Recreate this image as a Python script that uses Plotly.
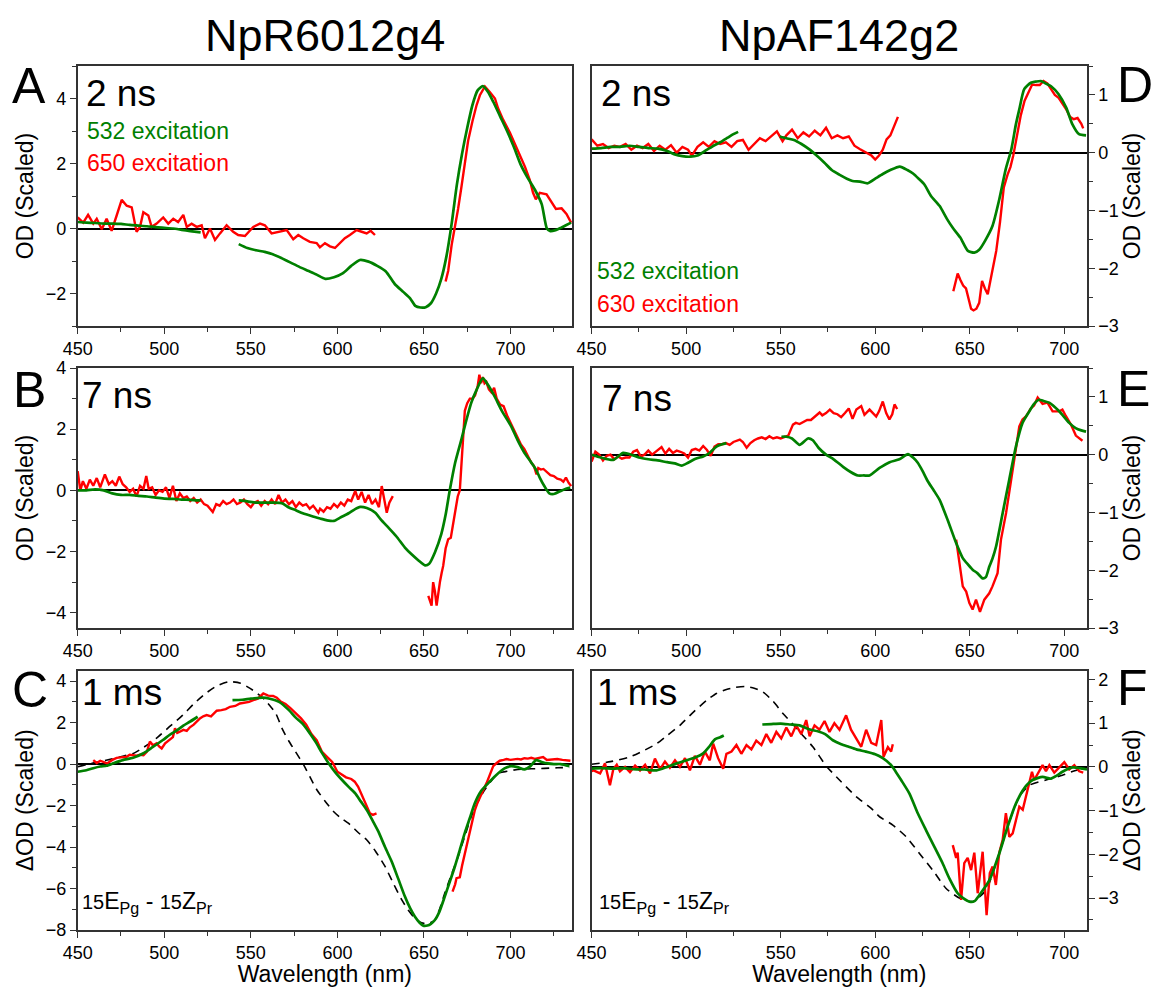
import plotly.graph_objects as go

W, H = 1156, 987
GREEN = '#008000'
RED = '#ff0000'
FONT = 'Arial, Liberation Sans, sans-serif'

# ---------------- Panel A (NpR6012g4, 2 ns) ----------------
A_g1_x = [450, 455, 460, 465, 470, 475, 480, 485, 490, 495, 500, 505, 510, 515, 521]
A_g1_y = [0.2, 0.18, 0.17, 0.15, 0.15, 0.14, 0.11, 0.09, 0.07, 0.04, 0.02, 0.0, -0.04, -0.08, -0.12]
A_g2_x = [543, 548, 553, 558, 563, 568, 573, 578, 583, 588, 593, 598, 603, 608, 613, 618, 623, 628, 633, 638,
          642, 645, 648, 651, 654, 657, 660, 663, 666, 669, 672, 675, 678, 681, 684, 687, 690, 694, 698, 702,
          706, 710, 714, 718, 721, 723, 726, 729, 732, 735]
A_g2_y = [-0.48, -0.6, -0.67, -0.72, -0.8, -0.92, -1.05, -1.18, -1.3, -1.42, -1.55, -1.5, -1.38, -1.15, -0.97, -1.02, -1.15, -1.32, -1.7, -1.95,
          -2.15, -2.38, -2.43, -2.42, -2.3, -2.0, -1.55, -0.85, 0.15, 1.35, 2.3, 3.1, 3.8, 4.25, 4.38, 4.2, 3.9, 3.45, 3.0, 2.5,
          1.95, 1.55, 1.2, 0.75, 0.0, -0.08, -0.05, 0.02, 0.1, 0.18]
A_r1_x = [450, 453.2, 456, 459, 461, 463.9, 466.7, 469.6, 472.5, 475.4, 478.3, 481.2, 484, 486, 487.9, 490.8, 492.7, 495.6,
          499.4, 502.3, 505.2, 508, 511, 513, 515.8, 518.7, 521.6, 523.5, 526.4, 529.3, 532.2, 536, 539.8, 542.7, 546.6,
          551.4, 555.3, 558.1, 562, 566.8, 570.7, 574.5, 577.4, 580.3, 584.1, 588, 589.9, 592.8, 595.7, 598.6, 601.4,
          604.3, 607.2, 611.1, 614, 616.9, 619.2, 621.7]
A_r1_y = [0.34, 0.18, 0.42, 0.15, 0.3, -0.02, 0.3, -0.07, 0.4, 0.88, 0.7, 0.65, -0.1, 0.05, 0.5, 0.4, 0.05, 0.15,
          0.34, 0.15, 0.3, 0.2, 0.42, 0.05, 0.15, 0.05, 0.1, -0.3, 0.0, -0.35, -0.15, 0.1, -0.1, -0.2, -0.23,
          0.05, 0.15, 0.1, -0.15, -0.1, -0.05, -0.33, -0.2, -0.3, -0.41, -0.45, -0.58, -0.45, -0.55, -0.6, -0.45,
          -0.3, -0.2, -0.05, -0.1, -0.15, -0.07, -0.2]
A_r2_x = [662.5, 664, 666, 667.8, 669.7, 671.7, 673.6, 675.5, 678, 680.4, 682.3, 685.2, 688, 691, 692.8, 695.7, 699.6,
          702.5, 705.4, 708.3, 711.1, 713, 714.6, 716.9, 720.8, 723.7, 726.2, 729.5, 732.3, 735]
A_r2_y = [-1.63, -1.3, -0.5, 0.0, 0.6, 1.3, 2.0, 2.7, 3.3, 3.8, 4.1, 4.37, 4.2, 4.0, 3.7, 3.35, 2.95,
          2.6, 2.25, 1.9, 1.5, 1.1, 0.9, 1.1, 1.05, 0.8, 0.6, 0.62, 0.45, 0.18]

# ---------------- Panel D (NpAF142g2, 2 ns) ----------------
D_g1_x = [450, 455, 460, 465, 470, 475, 480, 485, 490, 494, 498, 502, 506, 510, 514, 518, 522, 525, 527.5]
D_g1_y = [0.07, 0.08, 0.1, 0.1, 0.12, 0.1, 0.08, 0.07, 0.03, -0.03, -0.06, -0.07, -0.05, 0.03, 0.11, 0.18, 0.26, 0.32, 0.36]
D_g2_x = [549.5, 553, 557, 561, 565, 569, 573, 577, 581, 585, 588, 592, 596, 600, 604, 608, 613, 617, 620, 623,
          626, 629.5, 634, 638, 641, 645, 649, 652.4, 655, 658, 662, 665.6, 669, 672, 674.4, 676.2, 678.8, 682.3,
          685, 687.6, 690, 693, 697, 701, 704.3, 707.8, 711.5]
D_g2_y = [0.28, 0.25, 0.22, 0.15, 0.06, -0.05, -0.17, -0.3, -0.38, -0.45, -0.49, -0.5, -0.53, -0.45, -0.37, -0.3, -0.24, -0.3, -0.36, -0.45,
          -0.55, -0.75, -0.92, -1.15, -1.3, -1.47, -1.7, -1.73, -1.68, -1.53, -1.27, -0.81, -0.29, 0.06, 0.49, 0.75, 1.1, 1.21,
          1.23, 1.24, 1.2, 1.15, 1.01, 0.78, 0.49, 0.32, 0.3]
D_r1_x = [450, 453, 456, 459, 462, 465, 468, 471, 474, 477, 480, 483, 486, 489, 492, 495, 498, 501, 503, 506,
          509, 512, 515, 518, 521, 524, 527, 530, 533, 536, 539, 542, 545, 548, 551, 553, 556, 559, 562, 565,
          568, 571, 574, 577, 580, 583, 586, 589, 592, 595, 598, 600, 602, 604, 606, 608, 610, 612]
D_r1_y = [0.23, 0.12, 0.15, 0.08, 0.12, 0.1, 0.15, 0.05, 0.12, 0.08, 0.15, 0.03, 0.12, 0.05, 0.13, 0.0, 0.1, 0.05, -0.05, 0.1,
          0.18, 0.1, 0.2, 0.15, 0.18, 0.1, 0.2, 0.22, 0.05, 0.15, 0.25, 0.2, 0.28, 0.37, 0.2, 0.3, 0.4, 0.25, 0.35, 0.28,
          0.38, 0.3, 0.43, 0.25, 0.3, 0.25, 0.28, 0.12, 0.06, 0.0, -0.05, -0.12, -0.05, 0.05, 0.23, 0.3, 0.45, 0.62]
D_r2_x = [641.3, 643.6, 645, 646.5, 648, 649.5, 650.7, 652, 653.5, 655, 656.5, 658, 659.5, 661, 662.5, 664, 666, 668,
          670, 671.5, 673, 675, 677, 679, 681, 683, 685, 687, 689, 691, 693, 695, 697, 699, 701, 703, 705, 707, 709, 710]
D_r2_y = [-2.4, -2.09, -2.2, -2.3, -2.35, -2.55, -2.7, -2.73, -2.7, -2.6, -2.22, -2.35, -2.45, -2.2, -1.95, -1.7, -1.2, -0.6,
          -0.38, -0.25, -0.05, 0.3, 0.65, 0.9, 1.05, 1.18, 1.17, 1.17, 1.24, 1.2, 1.1, 1.0, 0.95, 0.85, 0.75, 0.62, 0.58, 0.6, 0.5, 0.42]

# ---------------- Panel B (NpR6012g4, 7 ns) ----------------
B_g1_x = [450, 455, 460, 465, 470, 475, 480, 485, 490, 495, 500, 505, 510, 515, 521]
B_g1_y = [0.0, 0.0, 0.03, 0.0, -0.1, -0.15, -0.15, -0.18, -0.2, -0.24, -0.27, -0.28, -0.3, -0.31, -0.33]
B_g2_x = [543, 548, 553, 558, 563, 568, 572, 576, 580, 585, 590, 594, 598, 602, 606.5, 610, 613.2, 617, 621.9, 625,
          629.5, 634, 639, 643, 647, 650.6, 653, 656.3, 660, 662.5, 664.9, 668, 671.6, 674.5, 677.3, 680.5, 684, 687.5,
          690.8, 695, 700.3, 704, 708, 711.5, 714.7, 717, 719.5, 722.4, 725, 729, 732, 734.5]
B_g2_y = [-0.33, -0.36, -0.4, -0.4, -0.4, -0.42, -0.56, -0.65, -0.75, -0.84, -0.92, -0.98, -1.0, -0.88, -0.75, -0.62, -0.54, -0.58, -0.73, -0.95,
          -1.22, -1.5, -1.87, -2.1, -2.3, -2.45, -2.4, -2.03, -1.43, -0.8, 0.0, 0.9, 1.66, 2.3, 2.86, 3.3, 3.67, 3.4,
          3.07, 2.6, 2.1, 1.65, 1.23, 0.95, 0.68, 0.4, 0.14, -0.1, -0.12, -0.02, 0.05, 0.09]
B_r1_x = [450, 451.5, 453, 455, 457, 459, 461, 463, 465.7, 468, 470, 472, 474, 476, 478, 480, 482, 484, 486, 488,
          489.6, 491, 493, 495, 497, 499, 501, 503, 505, 507, 509, 511, 513, 515, 517, 519, 521, 523, 525, 528,
          530, 532, 534, 536, 538, 540, 542, 544, 546, 548, 550, 552, 554, 556, 558, 560, 562, 564, 566, 568,
          570, 572, 574, 576, 578, 580, 582, 584, 586, 589, 590, 592, 594, 596, 598, 600, 602, 604, 606, 608,
          610.3, 612, 614, 616, 618, 620, 622, 624, 625.6, 627, 628.5, 630, 632]
B_r1_y = [0.63, 0.0, 0.3, 0.05, 0.35, 0.15, 0.4, 0.1, 0.52, 0.2, 0.3, 0.15, 0.45, 0.2, 0.1, -0.05, 0.05, -0.2, 0.15, 0.05,
          0.47, 0.05, 0.1, -0.15, 0.0, -0.05, 0.1, -0.25, 0.15, -0.35, -0.1, -0.25, -0.2, -0.35, -0.25, -0.4, -0.3, -0.45, -0.5, -0.71,
          -0.45, -0.5, -0.35, -0.45, -0.4, -0.3, -0.45, -0.4, -0.3, -0.45, -0.55, -0.4, -0.35, -0.5, -0.35, -0.45, -0.3, -0.45, -0.15, -0.4,
          -0.3, -0.45, -0.35, -0.55, -0.4, -0.5, -0.45, -0.6, -0.5, -0.73, -0.6, -0.7, -0.55, -0.6, -0.45, -0.55, -0.4, -0.5, -0.3, -0.35,
          -0.02, -0.3, -0.05, -0.4, -0.15, -0.45, -0.3, -0.55, 0.14, -0.3, -0.73, -0.4, -0.19]
B_r2_x = [652.5, 653.4, 654.4, 655.3, 656.3, 657.3, 658.3, 659.2, 660.2, 661.1, 662.5, 664, 665.5, 667, 668.5, 669.5,
          670.7, 672, 673.6, 675, 676.5, 678, 679.5, 681, 682, 683, 684, 685, 686, 687.5, 689, 690.5, 692, 694, 696,
          698, 700, 702, 704, 706, 708, 710, 712, 713.5, 715, 716, 717.5, 719, 721, 723, 725, 727, 729, 730.5, 732,
          733.5, 735]
B_r2_y = [-3.45, -3.6, -3.77, -3.0, -3.3, -3.77, -3.3, -3.0, -2.7, -2.47, -1.9, -1.6, -1.55, -1.0, -0.5, -0.2,
          0.0, 1.2, 2.6, 2.85, 3.0, 3.0, 3.1, 3.4, 3.78, 3.5, 3.7, 3.5, 3.55, 3.3, 3.2, 3.35, 3.0, 2.8, 2.75,
          2.45, 2.2, 1.95, 1.7, 1.5, 1.35, 1.15, 0.9, 0.8, 0.52, 0.73, 0.68, 0.7, 0.6, 0.5, 0.47, 0.38, 0.35, 0.28, 0.42,
          0.25, 0.14]

# ---------------- Panel E (NpAF142g2, 7 ns) ----------------
E_g1_x = [450, 455, 461.5, 466.7, 471, 475, 480, 485, 490, 494, 497.6, 501, 505, 509, 512, 516, 519, 521.3]
E_g1_y = [0.0, -0.05, -0.09, 0.03, 0.0, -0.05, -0.08, -0.1, -0.13, -0.15, -0.19, -0.14, -0.07, -0.03, 0.02, 0.14, 0.18, 0.2]
E_g2_x = [550.4, 553, 556, 560, 564.4, 567, 570, 574, 578, 583, 587, 590.8, 594, 597, 602.3, 607.6, 612.8, 617.3, 620,
          622.5, 625, 627.8, 631, 634, 638.3, 642.8, 646.3, 649, 651.5, 654, 656.8, 658.5, 660.3, 662, 663.9, 667.4,
          670.9, 674.4, 677.9, 681.5, 684, 686.7, 689, 692, 697.3, 702.6, 706, 709, 711.5]
E_g2_y = [0.31, 0.31, 0.28, 0.17, 0.28, 0.25, 0.12, 0.0, -0.08, -0.21, -0.3, -0.36, -0.36, -0.36, -0.23, -0.13, -0.08, 0.01, -0.05,
          -0.14, -0.28, -0.46, -0.62, -0.78, -1.13, -1.53, -1.79, -1.9, -1.99, -2.05, -2.14, -2.12, -1.94, -1.8, -1.59, -1.01,
          -0.43, 0.14, 0.55, 0.75, 0.88, 0.95, 0.93, 0.9, 0.75, 0.55, 0.46, 0.42, 0.4]
E_r1_x = [450, 452, 454, 456, 458, 460, 462, 464, 466, 468, 470, 472, 474, 476, 478, 480, 482, 484, 487, 489,
          491, 493, 495, 497, 499, 501, 503, 505, 507, 509, 511, 513, 515, 517, 519, 521, 523, 525, 528.4, 530,
          532, 534, 536, 538, 540, 542, 544, 546, 548, 550, 552, 554, 556.5, 558, 560, 562, 564, 566, 568, 570.6,
          572, 574, 576, 578, 580, 582, 584, 586, 588, 590, 592.6, 594.3, 597, 600.5, 602, 604, 605.8, 607.5, 609,
          610.2, 611.6]
E_r1_y = [-0.12, 0.05, 0.0, -0.1, -0.02, 0.0, -0.08, -0.03, -0.07, -0.05, -0.05, 0.05, 0.08, -0.03, 0.0, 0.07, 0.0, 0.05, 0.13, 0.02,
          0.1, 0.03, 0.07, 0.05, 0.02, -0.05, 0.08, 0.1, 0.07, 0.15, 0.08, -0.02, 0.14, 0.18, 0.18, 0.2, 0.17, 0.22, 0.26, 0.22,
          0.12, 0.2, 0.25, 0.28, 0.3, 0.27, 0.32, 0.28, 0.3, 0.28, 0.3, 0.33, 0.52, 0.55, 0.53, 0.57, 0.6, 0.6, 0.65, 0.73,
          0.68, 0.72, 0.78, 0.72, 0.7, 0.65, 0.72, 0.8, 0.62, 0.78, 0.84, 0.69, 0.78, 0.66, 0.75, 0.92, 0.72, 0.61, 0.7,
          0.87, 0.79]
E_r2_x = [642.8, 644.5, 646.3, 648.1, 649.8, 651.5, 653.3, 655.4, 657.7, 660.3, 662, 664.7, 666.5, 669.2, 671.8, 674.4,
          676.2, 677.9, 679.7, 682.3, 684, 685.9, 688.5, 691.1, 693.8, 697.3, 699, 700.8, 703.5, 706.1, 709.6]
E_r2_y = [-1.47, -1.91, -2.28, -2.37, -2.57, -2.68, -2.51, -2.72, -2.51, -2.4, -2.28, -2.05, -1.47, -1.01, -0.43, 0.14,
          0.49, 0.61, 0.66, 0.8, 0.85, 0.99, 0.88, 0.9, 0.75, 0.75, 0.78, 0.67, 0.52, 0.33, 0.24]

# ---------------- Panel C (NpR6012g4, 1 ms) ----------------
C_g1_x = [450, 455, 459, 463, 466.7, 471, 476, 482, 487.7, 493, 499.2, 503, 507, 511, 515, 519.3]
C_g1_y = [-0.37, -0.3, -0.2, -0.12, -0.08, 0.05, 0.19, 0.3, 0.51, 0.8, 1.16, 1.4, 1.61, 1.85, 2.05, 2.28]
C_g2_x = [539.4, 545, 550, 556.7, 561, 566.3, 572, 575.8, 579.7, 583.5, 587.3, 591, 595, 598.8, 602.7, 606.5, 610.3,
          613.5, 617, 620.5, 623.7, 627.5, 631.4, 635, 639, 642, 644.8, 647.5, 649.6, 652, 654, 656.3, 659, 662, 665,
          667.8, 670.5, 673.5, 676.5, 679.3, 683, 687, 691.5, 696.5, 700.3, 704, 708, 711.5, 714.7, 718, 721.4, 725,
          729, 734]
C_g2_y = [3.08, 3.1, 3.15, 3.2, 3.15, 3.0, 2.6, 2.25, 1.96, 1.55, 1.08, 0.55, 0.03, -0.4, -0.77, -1.1, -1.41,
          -1.8, -2.22, -2.75, -3.26, -4.0, -4.71, -5.5, -6.39, -6.95, -7.36, -7.65, -7.79, -7.78, -7.7, -7.52, -7.1, -6.39, -5.65,
          -4.95, -4.2, -3.34, -2.6, -1.9, -1.3, -0.93, -0.55, -0.21, -0.1, -0.15, -0.26, -0.1, 0.19, 0.1, 0.03, 0.0,
          0.0, -0.1]
C_r1_x = [459, 461, 463, 465, 467, 470, 472.5, 475, 478.3, 480, 482, 484, 486, 488, 490, 491.7, 493.5, 495.6, 497, 498.5,
          500.5, 503.3, 505, 506.2, 507.5, 509, 511, 513, 514.8, 517, 520.6, 522.5, 524.5, 527, 530.3, 533, 535.5, 538,
          541, 543.7, 546, 549, 551.4, 554, 557.2, 560, 562.9, 565, 567, 570, 573, 576, 579, 582, 585, 588, 591, 594,
          597, 600, 602.5, 605, 608, 610, 612, 614, 616, 618.8, 620.5, 622.6]
C_r1_y = [0.19, 0.05, 0.16, 0.08, 0.03, 0.2, 0.3, 0.32, 0.35, 0.45, 0.43, 0.4, 0.45, 0.43, 0.6, 1.08, 0.9, 1.0, 0.85, 0.75,
          1.0, 1.16, 1.3, 1.72, 1.5, 1.56, 1.65, 1.6, 1.77, 1.9, 2.2, 2.3, 2.36, 2.3, 2.57, 2.6, 2.65, 2.76,
          2.8, 2.92, 2.95, 3.0, 3.08, 3.15, 3.4, 3.3, 3.28, 3.2, 3.03, 2.9, 2.68, 2.45, 2.2, 1.9, 1.45, 1.15, 0.6, 0.35,
          0.1, -0.37, -0.5, -0.64, -0.72, -0.85, -1.1, -1.5, -1.9, -2.38, -2.45, -2.38]
C_r2_x = [666.5, 668, 668.8, 670.7, 672, 673.6, 675, 676.5, 678, 679.4, 681, 682.3, 684, 686.1, 688, 690, 692, 693.8,
          696, 697.7, 700, 701.5, 704, 706, 708, 710, 712, 714, 716, 718.8, 721, 724, 727, 730, 732.5, 734.6]
C_r2_y = [-6.15, -5.8, -5.5, -5.46, -4.9, -4.3, -3.8, -3.26, -2.7, -2.22, -1.85, -1.57, -1.3, -0.93, -0.5, -0.1, 0.05, 0.16,
          0.2, 0.24, 0.2, 0.22, 0.25, 0.22, 0.28, 0.26, 0.3, 0.25, 0.28, 0.34, 0.2, 0.22, 0.24, 0.2, 0.18, 0.16]
C_ref_x = [450, 456, 462.8, 470, 476, 482, 488, 495.4, 503, 510.7, 517, 524, 530, 537.5, 544, 551, 558, 564.4, 568, 572,
           575.8, 580.6, 584, 588.2, 593, 597.9, 602, 606.5, 612, 617, 622, 627.6, 632, 637.2, 641, 644.8, 648.6, 652,
           656.3, 659, 662, 666, 669.7, 673.5, 677.3, 681, 685, 689, 692.7, 698, 704.2, 712, 719.5, 727, 734]
C_ref_y = [-0.13, 0.0, 0.11, 0.25, 0.38, 0.51, 0.8, 1.24, 1.8, 2.36, 2.9, 3.41, 3.75, 3.97, 3.9, 3.57, 3.1, 2.44, 1.72, 1.1,
           0.6, -0.05, -0.6, -1.25, -1.8, -2.3, -2.6, -2.86, -3.3, -3.66, -4.2, -4.95, -5.7, -6.55, -7.05, -7.44, -7.65, -7.7,
           -7.52, -7.0, -6.23, -5.3, -4.47, -3.5, -2.54, -1.85, -1.25, -0.8, -0.45, -0.35, -0.26, -0.23, -0.21, -0.18, -0.16]

# ---------------- Panel F (NpAF142g2, 1 ms) ----------------
F_g1_x = [450, 455, 461.5, 467, 472, 478, 484.4, 490, 495, 500.2, 505, 509, 512, 515.2, 518, 519.9]
F_g1_y = [-0.04, -0.03, -0.04, -0.03, -0.05, -0.06, -0.08, 0.0, 0.08, 0.15, 0.22, 0.31, 0.45, 0.63, 0.68, 0.72]
F_g2_x = [540.3, 545, 550, 555, 560, 565, 570, 573.5, 577.6, 582, 586, 590, 595, 600, 604, 608.4, 611, 613.7, 618.1,
          622.5, 626.9, 631.3, 635.7, 639.2, 643.6, 646.5, 649.8, 652.5, 655.1, 660.4, 665.6, 670, 674.4, 678.8, 683.2,
          688.5, 692.9, 696, 699, 704.3, 709.6, 712]
F_g2_y = [0.97, 0.98, 0.99, 0.97, 0.95, 0.86, 0.81, 0.75, 0.61, 0.52, 0.46, 0.4, 0.35, 0.29, 0.2, 0.04, -0.12, -0.3, -0.61,
          -1.06, -1.45, -1.83, -2.21, -2.55, -2.89, -3.0, -3.08, -3.07, -2.93, -2.59, -1.98, -1.37, -0.84, -0.49, -0.3,
          -0.23, -0.27, -0.2, -0.11, -0.01, -0.04, -0.06]
F_r1_x = [450, 451, 454.5, 457.1, 459.7, 461.5, 463.3, 465, 467.7, 470.3, 473, 475.6, 478.3, 480.9, 483.5, 486.2, 488.8,
          491.4, 494.1, 496.7, 499.4, 502, 504.6, 507.3, 509.9, 512.5, 514.3, 516.9, 519.6, 521.3, 524, 526.6, 529.2,
          531.9, 534.5, 537.1, 539.8, 542.4, 545, 547.7, 550.3, 553, 555.6, 558.2, 560.9, 563.5, 565.3, 567.9, 570.5,
          573.2, 575.8, 578.4, 581.1, 584.6, 587.2, 589.9, 592.6, 595.2, 597.9, 600.5, 603.2, 604.4, 606.7, 608.4, 609.3]
F_r1_y = [-0.1, -0.08, -0.15, 0.08, -0.42, -0.05, 0.05, -0.1, 0.0, -0.12, 0.03, -0.08, 0.05, -0.15, 0.19, -0.05, 0.12,
          -0.02, 0.15, 0.0, 0.2, -0.08, 0.25, 0.05, 0.35, 0.15, 0.53, 0.2, -0.04, 0.3, 0.35, 0.5, 0.3,
          0.5, 0.4, 0.6, 0.5, 0.75, 0.55, 0.8, 0.65, 0.9, 0.7, 0.95, 0.75, 1.07, 0.7, 0.95, 0.85,
          1.05, 0.8, 1.0, 0.85, 1.18, 0.85, 0.65, 0.46, 0.85, 0.55, 0.5, 1.07, 0.23, 0.45, 0.35, 0.52]
F_r2_x = [641.0, 642.8, 643.6, 645.4, 647.1, 648.9, 650.7, 652.4, 654.2, 656.8, 658.9, 660.6, 662.1, 663.8, 665.6, 667.4,
          669.1, 670.9, 672.7, 674.4, 676.2, 678, 679.7, 681.5, 682.9, 684.1, 686.8, 688.5, 690.3, 692.1, 694.7, 697.3,
          700, 702.6, 705.3, 707.9, 710]
F_r2_y = [-1.79, -2.08, -1.96, -3.04, -2.2, -2.08, -2.36, -1.96, -2.89, -1.94, -3.39, -2.43, -2.28, -2.7, -1.96, -1.67,
          -1.06, -1.6, -1.52, -1.22, -0.91, -0.98, -0.68, -0.3, -0.11, -0.3, -0.07, 0.04, -0.1, 0.04, -0.13, -0.02,
          0.11, -0.06, 0.04, -0.1, -0.13]
F_ref_x = [450, 460, 470.3, 477, 484.4, 490, 496.7, 503, 510.8, 516, 521.3, 526, 531, 536, 540.7, 546, 551.2, 556, 560,
           567, 574.1, 581.1, 589.9, 597.9, 602.3, 609.3, 616.4, 623.4, 630.4, 637.5, 644.5, 651.5, 658.6, 662, 665.6,
           670.9, 676.2, 681.5, 690.3, 699, 706, 712]
F_ref_y = [0.06, 0.12, 0.23, 0.36, 0.53, 0.72, 0.95, 1.22, 1.52, 1.68, 1.77, 1.82, 1.84, 1.8, 1.71, 1.5, 1.22, 1.0, 0.8,
           0.46, 0.02, -0.3, -0.68, -0.95, -1.14, -1.33, -1.6, -1.98, -2.36, -2.78, -3.0, -3.08, -2.82, -2.45, -1.98,
           -1.26, -0.68, -0.42, -0.3, -0.19, -0.08, -0.01]

# ---------------- text ----------------
col_titles = ['NpR6012g4', 'NpAF142g2']
panel_letters = ['A', 'B', 'C', 'D', 'E', 'F']
time_labels = ['2 ns', '7 ns', '1 ms', '2 ns', '7 ns', '1 ms']
legend_left = ['532 excitation', '650 excitation']
legend_right = ['532 excitation', '630 excitation']
diff_label = ('<span style="font-size:20px">15</span>E<sub>Pg</sub> - '
              '<span style="font-size:20px">15</span>Z<sub>Pr</sub>')
ytitle_od = 'OD (Scaled)'
ytitle_dod = '\u0394OD (Scaled)'
xtitle = 'Wavelength (nm)'

# ---------------- layout geometry (pixels) ----------------
def px(x):
    return x / W

def py(y):
    return 1 - y / H

LEFT = [px(77.7), px(572)]
RIGHT = [px(591.6), px(1087)]
ROW1 = [py(326), py(66)]
ROW2 = [py(628), py(368)]
ROW3 = [py(930), py(670.7)]

fig = go.Figure()

def green(x, y, ax):
    fig.add_trace(go.Scatter(x=x, y=y, mode='lines', line=dict(color=GREEN, width=2.7, shape='spline', smoothing=0.6),
                             xaxis=ax[0], yaxis=ax[1], showlegend=False, hoverinfo='skip'))

def red(x, y, ax):
    fig.add_trace(go.Scatter(x=x, y=y, mode='lines', line=dict(color=RED, width=2.4),
                             xaxis=ax[0], yaxis=ax[1], showlegend=False, hoverinfo='skip'))

def ref(x, y, ax):
    fig.add_trace(go.Scatter(x=x, y=y, mode='lines', line=dict(color='black', width=1.6, dash='8px,6px', shape='spline', smoothing=0.6),
                             xaxis=ax[0], yaxis=ax[1], showlegend=False, hoverinfo='skip'))

axA, axD, axB, axE, axC, axF = ('x', 'y'), ('x2', 'y2'), ('x3', 'y3'), ('x4', 'y4'), ('x5', 'y5'), ('x6', 'y6')

red(A_r1_x, A_r1_y, axA); red(A_r2_x, A_r2_y, axA)
green(A_g1_x, A_g1_y, axA); green(A_g2_x, A_g2_y, axA)
red(D_r1_x, D_r1_y, axD); red(D_r2_x, D_r2_y, axD)
green(D_g1_x, D_g1_y, axD); green(D_g2_x, D_g2_y, axD)
red(B_r1_x, B_r1_y, axB); red(B_r2_x, B_r2_y, axB)
green(B_g1_x, B_g1_y, axB); green(B_g2_x, B_g2_y, axB)
red(E_r1_x, E_r1_y, axE); red(E_r2_x, E_r2_y, axE)
green(E_g1_x, E_g1_y, axE); green(E_g2_x, E_g2_y, axE)
ref(C_ref_x, C_ref_y, axC)
red(C_r1_x, C_r1_y, axC); red(C_r2_x, C_r2_y, axC)
green(C_g1_x, C_g1_y, axC); green(C_g2_x, C_g2_y, axC)
ref(F_ref_x, F_ref_y, axF)
red(F_r1_x, F_r1_y, axF); red(F_r2_x, F_r2_y, axF)
green(F_g1_x, F_g1_y, axF); green(F_g2_x, F_g2_y, axF)

LINEC = '#333333'
TICKFONT = dict(size=18, color='black', family=FONT)

def xaxis(domain, rng, anchor, title=None):
    d = dict(domain=domain, range=rng, anchor=anchor, automargin=False, showline=True, linecolor=LINEC, linewidth=1.5,
             mirror=True, ticks='outside', ticklen=6, tickwidth=1.3, tickcolor=LINEC, tick0=450, dtick=50,
             minor=dict(dtick=25, tick0=450, ticks='outside', ticklen=4, tickwidth=1.2, tickcolor=LINEC, showgrid=False),
             showgrid=False, zeroline=False, tickfont=TICKFONT)
    if title:
        d['title'] = dict(text=title, font=dict(size=23, color='black', family=FONT), standoff=4)
    return d

def yaxis(domain, rng, anchor, dtick, mdtick, side, title):
    return dict(domain=domain, range=rng, anchor=anchor, side=side, automargin=False, showline=True, linecolor=LINEC,
                linewidth=1.5, mirror=True, ticks='outside', ticklen=6, tickwidth=1.3, tickcolor=LINEC, dtick=dtick, tick0=0,
                minor=dict(dtick=mdtick, tick0=0, ticks='outside', ticklen=4, tickwidth=1.2, tickcolor=LINEC, showgrid=False),
                showgrid=False, zeroline=True, zerolinecolor='black', zerolinewidth=1.5,
                tickfont=TICKFONT,
                title=dict(text=title, font=dict(size=23, color='black', family=FONT), standoff=6))

def inner_right(overlay, anchor, domain, rng):
    # small inward ticks on the right frame of the left-hand panels
    return dict(overlaying=overlay, anchor=anchor, side='right', domain=domain, range=rng, automargin=False,
                showline=False, showgrid=False, zeroline=False, showticklabels=False,
                ticks='inside', ticklen=4, tickwidth=1.2, tickcolor=LINEC, dtick=1, tick0=0)

annotations = []

def ann(text, x, y, size, color='black', xanchor='left', yanchor='middle'):
    annotations.append(dict(text=text, x=px(x), y=py(y), xref='paper', yref='paper', showarrow=False,
                            xanchor=xanchor, yanchor=yanchor, font=dict(size=size, color=color, family=FONT)))

ann(col_titles[0], (77.7 + 572) / 2, 35, 45, xanchor='center')
ann(col_titles[1], (591.6 + 1087) / 2, 35, 45, xanchor='center')
for letter, (lx, ly) in zip(panel_letters, [(29, 86), (29, 390), (30, 690), (1135, 85), (1133, 389), (1132, 688)]):
    ann(letter, lx, ly, 50, xanchor='center')
for t, (tx, ty) in zip(time_labels, [(84, 93), (80, 396), (80, 692), (599, 93), (600, 398), (595, 692)]):
    ann(t, tx, ty, 37)
ann(legend_left[0], 85, 131, 23, GREEN)
ann(legend_left[1], 85, 163, 23, RED)
ann(legend_right[0], 595, 271, 23, GREEN)
ann(legend_right[1], 595, 304, 23, RED)
ann(diff_label, 80, 902, 23)
ann(diff_label, 597, 902, 23)

fig.update_layout(
    width=W, height=H, margin=dict(l=0, r=0, t=0, b=0, pad=0, autoexpand=False),
    paper_bgcolor='white', plot_bgcolor='white',
    font=dict(family=FONT, color='black'),
    showlegend=False,
    xaxis=xaxis(LEFT, [450, 735.5], 'y'),
    yaxis=yaxis(ROW1, [-3, 5], 'x', 2, 1, 'left', ytitle_od),
    xaxis2=xaxis(RIGHT, [450, 712], 'y2'),
    yaxis2=yaxis(ROW1, [-3, 1.5], 'x2', 1, 0.5, 'right', ytitle_od),
    xaxis3=xaxis(LEFT, [450, 735.5], 'y3'),
    yaxis3=yaxis(ROW2, [-4.5, 4], 'x3', 2, 1, 'left', ytitle_od),
    xaxis4=xaxis(RIGHT, [450, 712], 'y4'),
    yaxis4=yaxis(ROW2, [-3, 1.5], 'x4', 1, 0.5, 'right', ytitle_od),
    xaxis5=xaxis(LEFT, [450, 735.5], 'y5', xtitle),
    yaxis5=yaxis(ROW3, [-8, 4.5], 'x5', 2, 1, 'left', ytitle_dod),
    xaxis6=xaxis(RIGHT, [450, 712], 'y6', xtitle),
    yaxis6=yaxis(ROW3, [-3.73, 2.2], 'x6', 1, 0.5, 'right', ytitle_dod),
    yaxis7=inner_right('y', 'x', ROW1, [-3, 5]),
    yaxis8=inner_right('y3', 'x3', ROW2, [-4.5, 4]),
    yaxis9=inner_right('y5', 'x5', ROW3, [-8, 4.5]),
    annotations=annotations,
)

fig.write_html('out.html', config={'displayModeBar': False},
               post_script="document.body.style.margin='0';")
